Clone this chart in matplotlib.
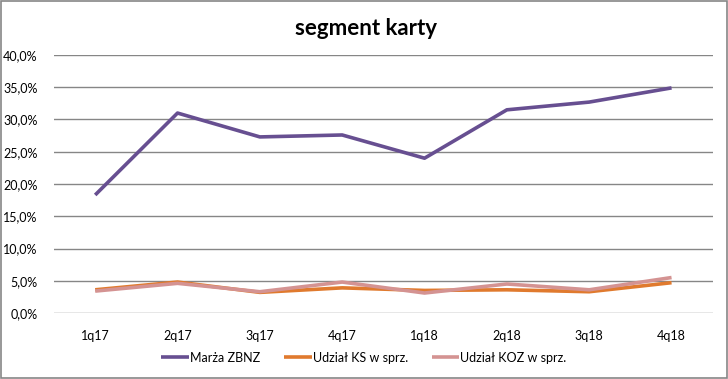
import matplotlib
matplotlib.use("Agg")
import matplotlib.pyplot as plt
from matplotlib.ticker import FuncFormatter, MultipleLocator

# Data
quarters = ["1q17", "2q17", "3q17", "4q17", "1q18", "2q18", "3q18", "4q18"]
marza_zbnz = [18.3, 31.0, 27.3, 27.6, 24.0, 31.5, 32.7, 34.9]
udzial_ks = [3.6, 4.8, 3.2, 3.9, 3.5, 3.6, 3.3, 4.7]
udzial_koz = [3.4, 4.6, 3.3, 4.8, 3.1, 4.5, 3.6, 5.5]

series_labels = ["Marża ZBNZ", "Udział KS w sprz.", "Udział KOZ w sprz."]
series_colors = ["#674F91", "#E07A2E", "#D49392"]

plt.rcParams['font.family'] = ['Lato', 'DejaVu Sans']

fig = plt.figure(figsize=(7.28, 3.79), dpi=100)
fig.patch.set_facecolor('white')
ax = fig.add_axes([0.0742, 0.1741, 0.9048, 0.6808])

x = range(len(quarters))
for vals, label, color in zip([marza_zbnz, udzial_ks, udzial_koz], series_labels, series_colors):
    ax.plot(x, [v / 100 for v in vals], color=color, linewidth=2.6, label=label,
            solid_joinstyle='round', solid_capstyle='butt')

ax.set_xlim(-0.5, len(quarters) - 0.5)
ax.set_ylim(0, 0.40)
ax.yaxis.set_major_locator(MultipleLocator(0.05))
ax.yaxis.set_major_formatter(FuncFormatter(lambda v, _: f"{v * 100:.1f}%".replace(".", ",")))
ax.set_xticks(list(x))
ax.set_xticklabels(quarters)
ax.tick_params(axis='both', length=0, labelsize=9, colors='black')
ax.tick_params(axis='x', pad=12)
ax.tick_params(axis='y', pad=12)

ax.grid(axis='y', color='#868686', linewidth=1)
ax.set_axisbelow(True)
for spine in ax.spines.values():
    spine.set_visible(False)

fig.text(0.503, 0.925, "segment karty", ha="center", va="center",
         fontsize=16, fontweight="bold")

fig.legend(loc='center', bbox_to_anchor=(0.5, 0.056), ncol=3, frameon=False,
           fontsize=9, handlelength=2.2, handletextpad=0.1, columnspacing=1.9)

# Outer border
border = plt.Rectangle((0.001, 0.002), 0.997, 0.996, transform=fig.transFigure,
                       fill=False, edgecolor='#868686', linewidth=1.2)
fig.patches.append(border)

plt.savefig("out.png", dpi=100, facecolor='white')
plt.close()
